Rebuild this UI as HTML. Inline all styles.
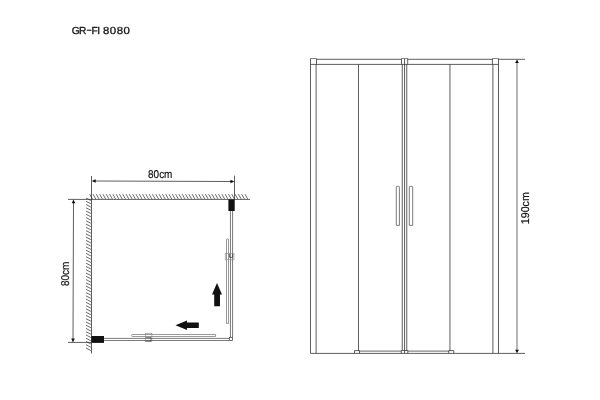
<!DOCTYPE html>
<html><head><meta charset="utf-8"><title>GR-FI 8080</title>
<style>html,body{margin:0;padding:0;background:#fff;width:600px;height:400px;overflow:hidden}</style></head>
<body>
<svg text-rendering="geometricPrecision" width="600" height="400" viewBox="0 0 600 400" style="position:absolute;left:0;top:0;will-change:transform">
<text y="33.7" font-family="Liberation Sans, sans-serif" font-size="10.2" fill="#111" stroke="#111" stroke-width="0.3"><tspan x="71.74 78.91">GR</tspan><tspan x="86.2" dy="-0.6" textLength="5.7" lengthAdjust="spacingAndGlyphs">-</tspan><tspan x="91.41 97.31" dy="0.6">FI</tspan> <tspan x="103" letter-spacing="0.47" textLength="27.5" lengthAdjust="spacingAndGlyphs">8080</tspan></text>
<g fill="none" stroke="#303030" stroke-width="0.78">
<path d="M89.70 194.20L92.40 198.90M93.00 194.20L95.70 198.90M96.31 194.20L99.01 198.90M99.61 194.20L102.31 198.90M102.92 194.20L105.62 198.90M106.22 194.20L108.92 198.90M109.52 194.20L112.22 198.90M112.83 194.20L115.53 198.90M116.13 194.20L118.83 198.90M119.44 194.20L122.14 198.90M122.74 194.20L125.44 198.90M126.04 194.20L128.74 198.90M129.35 194.20L132.05 198.90M132.65 194.20L135.35 198.90M135.96 194.20L138.66 198.90M139.26 194.20L141.96 198.90M142.56 194.20L145.26 198.90M145.87 194.20L148.57 198.90M149.17 194.20L151.87 198.90M152.48 194.20L155.18 198.90M155.78 194.20L158.48 198.90M159.08 194.20L161.78 198.90M162.39 194.20L165.09 198.90M165.69 194.20L168.39 198.90M169.00 194.20L171.70 198.90M172.30 194.20L175.00 198.90M175.60 194.20L178.30 198.90M178.91 194.20L181.61 198.90M182.21 194.20L184.91 198.90M185.52 194.20L188.22 198.90M188.82 194.20L191.52 198.90M192.12 194.20L194.82 198.90M195.43 194.20L198.13 198.90M198.73 194.20L201.43 198.90M202.04 194.20L204.74 198.90M205.34 194.20L208.04 198.90M208.64 194.20L211.34 198.90M211.95 194.20L214.65 198.90M215.25 194.20L217.95 198.90M218.56 194.20L221.26 198.90M221.86 194.20L224.56 198.90M225.16 194.20L227.86 198.90M228.47 194.20L231.17 198.90M231.77 194.20L234.47 198.90M235.08 194.20L237.78 198.90M238.38 194.20L241.08 198.90M241.68 194.20L244.38 198.90M244.99 194.20L247.69 198.90" stroke="#444" stroke-width="0.8"/>
<path d="M86.00 198.00L90.90 200.50M86.00 201.26L90.90 203.76M86.00 204.52L90.90 207.02M86.00 207.79L90.90 210.29M86.00 211.05L90.90 213.55M86.00 214.31L90.90 216.81M86.00 217.57L90.90 220.07M86.00 220.83L90.90 223.33M86.00 224.10L90.90 226.60M86.00 227.36L90.90 229.86M86.00 230.62L90.90 233.12M86.00 233.88L90.90 236.38M86.00 237.14L90.90 239.64M86.00 240.41L90.90 242.91M86.00 243.67L90.90 246.17M86.00 246.93L90.90 249.43M86.00 250.19L90.90 252.69M86.00 253.45L90.90 255.95M86.00 256.72L90.90 259.22M86.00 259.98L90.90 262.48M86.00 263.24L90.90 265.74M86.00 266.50L90.90 269.00M86.00 269.76L90.90 272.26M86.00 273.03L90.90 275.53M86.00 276.29L90.90 278.79M86.00 279.55L90.90 282.05M86.00 282.81L90.90 285.31M86.00 286.07L90.90 288.57M86.00 289.34L90.90 291.84M86.00 292.60L90.90 295.10M86.00 295.86L90.90 298.36M86.00 299.12L90.90 301.62M86.00 302.38L90.90 304.88M86.00 305.65L90.90 308.15M86.00 308.91L90.90 311.41M86.00 312.17L90.90 314.67M86.00 315.43L90.90 317.93M86.00 318.69L90.90 321.19M86.00 321.96L90.90 324.46M86.00 325.22L90.90 327.72M86.00 328.48L90.90 330.98M86.00 331.74L90.90 334.24M86.00 335.00L90.90 337.50M86.00 338.27L90.90 340.77M86.00 341.53L90.90 344.03M86.00 344.79L90.90 347.29M86.00 348.05L90.90 350.55" stroke="#444" stroke-width="0.8"/>
<path d="M68 199.4H250M91.5 176V353.5M234.5 175.6V199.4M68 342.4H91.5"/>
<path d="M95 181.0L232 181.5M73.5 202.5L73 339"/>
<path d="M230.45 211V337.3M232.55 211V337.3M104 338.4H229.3M104 340.5H229.3" stroke="#555"/>
</g>
<path d="M91.7 181l4 -1.8v3.6zM234.4 181.5l-4 -1.8v3.6zM73.5 199.5l-1.8 3.8h3.6zM73 342.4l-1.8 -3.8h3.6z" fill="#111"/>
<text x="148.1" y="177.7" font-family="Liberation Sans, sans-serif" font-size="11.3" fill="#111" stroke="#111" stroke-width="0.2" textLength="24.3" lengthAdjust="spacingAndGlyphs">80cm</text>
<text transform="translate(68.6 286) rotate(-90)" font-family="Liberation Sans, sans-serif" font-size="11.3" fill="#111" stroke="#111" stroke-width="0.2" textLength="24.3" lengthAdjust="spacingAndGlyphs">80cm</text>
<rect x="91.4" y="336" width="12.6" height="6.9" fill="#111"/>
<rect x="228.4" y="199.4" width="6.3" height="11.6" fill="#111"/>
<rect x="229.3" y="337.3" width="3.3" height="3.1" fill="#fff" stroke="#333" stroke-width="0.7"/>
<path d="M226.5 323.4V239.8a1 1 0 0 1 2 0V323.4z" stroke="#555" stroke-width="0.6" fill="#fff"/>
<path d="M215.6 334.5H132.6a1 1 0 0 0 0 2H215.6z" stroke="#555" stroke-width="0.6" fill="#fff"/>
<rect x="225.2" y="253.3" width="8.8" height="6.5" fill="none" stroke="#888" stroke-width="0.6"/>
<path d="M229.5 253.8V257.4H232.7V253.8" fill="none" stroke="#333" stroke-width="0.7"/>
<rect x="145.3" y="333.4" width="6.6" height="8.2" fill="none" stroke="#888" stroke-width="0.6"/>
<path d="M145.8 337.6H151V341H145.6" fill="none" stroke="#444" stroke-width="0.7"/>
<path d="M217 283L222 294.5H220V306.3H214.2V294.5H212z" fill="#111"/>
<path d="M175.5 325.3L187 320.5V322.5H198.8V328H187V330z" fill="#111"/>
<g fill="none" stroke="#303030" stroke-width="0.78">
<path d="M316.5 59.3H401.5M407.7 59.3H492.4M498.5 59.3H525M310.5 64.4H498.5M310.5 353.4H525"/>
<path d="M310.5 58.8V353.4M316.5 58.8V64.4M492.4 64.4V58.8M498.5 58.8V353.4"/>
<path d="M316.1 64.4V353.4M492.9 64.4V353.4"/>
<path d="M401.5 64.4V58.8M407.7 58.8V64.4M402.25 64.4V350.5M404.55 58.5V353.4M406.75 64.4V350.5"/>
<path d="M310.2 58.5H316.8M401.2 58.5H408M492.1 58.5H498.8" stroke="#666"/>
<path d="M358.5 64.4V350.6M449.95 64.4V350.6"/>
<path d="M359.5 351.1H401M408 351.1H449" stroke="#888" stroke-width="1.1"/>
<path d="M354.5 353.4V350.6H359.5V353.4M401.3 353.4V350.5H407.8V353.4M448.8 353.4V350.6H453.8V353.4"/>
<path d="M396.3 225.4V187.2a0.9 0.9 0 0 1 .9-.9h1.3a0.9 0.9 0 0 1 .9 .9V225.4zM409.3 225.4V187.2a0.9 0.9 0 0 1 .9-.9h1.6a0.9 0.9 0 0 1 .9 .9V225.4z" stroke="#555"/>
<path d="M517 62V350.5" stroke="#444"/>
</g>
<path d="M517 59.4l-1.9 3.5h3.8zM517 353.2l-1.9 -3.5h3.8z" fill="#111"/>
<text transform="translate(528.5 224.2) rotate(-90)" font-family="Liberation Sans, sans-serif" font-size="11.3" fill="#111" stroke="#111" stroke-width="0.2" textLength="32" lengthAdjust="spacingAndGlyphs">190cm</text>
</svg>
</body></html>
